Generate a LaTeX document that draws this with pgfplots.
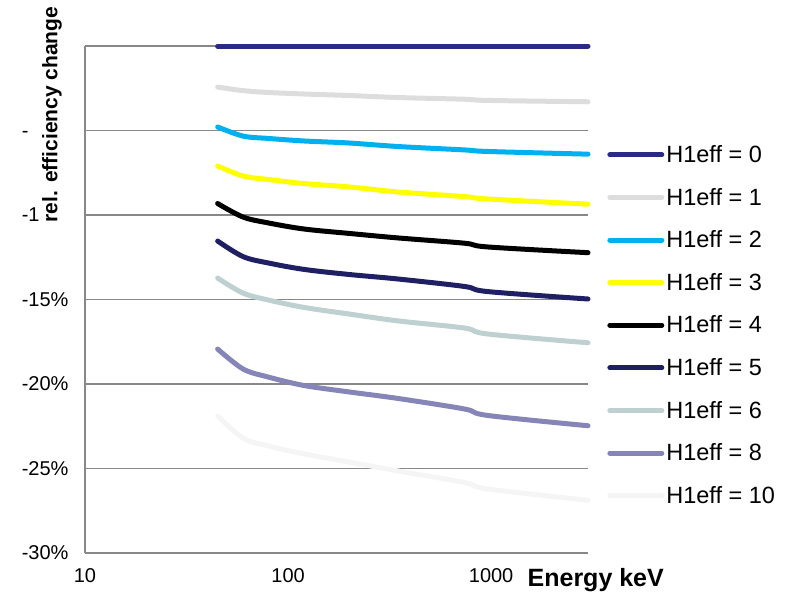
\documentclass[border=0pt]{standalone}
\usepackage{fontspec}
\setmainfont{Liberation Sans}
\usepackage{pgfplots}
\pgfplotsset{compat=1.18}
\usepackage{pgfplotstable}
\definecolor{c0}{RGB}{43,43,135}
\definecolor{c1}{RGB}{221,221,221}
\definecolor{c2}{RGB}{0,176,240}
\definecolor{c3}{RGB}{255,255,0}
\definecolor{c4}{RGB}{0,0,0}
\definecolor{c5}{RGB}{31,31,99}
\definecolor{c6}{RGB}{190,208,208}
\definecolor{c8}{RGB}{133,133,184}
\definecolor{c10}{RGB}{245,245,245}
\definecolor{gridc}{RGB}{136,136,136}
\pgfplotstableread{
E     h0  h1     h2     h3     h4      h5      h6      h8      h10
45    0  -2.43  -4.79  -7.10  -9.32  -11.54  -13.73  -17.93  -21.89
60    0  -2.64  -5.33  -7.69  -10.12 -12.46  -14.62  -19.11  -23.20
80    0  -2.75  -5.47  -7.90  -10.47 -12.84  -15.03  -19.59  -23.67
120   0  -2.84  -5.62  -8.14  -10.83 -13.22  -15.47  -20.09  -24.14
200   0  -2.93  -5.74  -8.34  -11.09 -13.52  -15.86  -20.47  -24.62
350   0  -3.05  -5.95  -8.64  -11.36 -13.79  -16.27  -20.86  -25.15
740   0  -3.15  -6.15  -8.91  -11.67 -14.23  -16.69  -21.48  -25.83
960   0  -3.22  -6.24  -9.05  -11.89 -14.53  -17.04  -21.86  -26.21
3000  0  -3.30  -6.40  -9.36  -12.23 -14.97  -17.56  -22.47  -26.88
}\data
\begin{document}
\begin{tikzpicture}
\useasboundingbox (0,0) rectangle (786pt,595pt);
\begin{axis}[
  at={(85pt,42pt)}, anchor=south west,
  scale only axis, width=503pt, height=507pt,
  xmode=log, xmin=10, xmax=3000,
  ymin=-30, ymax=0,
  axis x line*=bottom, axis y line*=left,
  axis line style={gridc, line width=1.5pt, -},
  major tick length=0pt, minor tick length=0pt,
  xminorticks=false,
  xtick={10,100,1000}, xticklabels={10,100,1000},
  ytick={-30,-25,-20,-15,-10,-5,0},
  yticklabels={-30\%,-25\%,-20\%,-15\%,-1\phantom{0\%},-\phantom{10\%},{}},
  ymajorgrids, major grid style={gridc, line width=1.5pt},
  /pgf/number format/assume math mode=true,
  tick label style={font=\fontsize{20}{24}\selectfont, black},
  xticklabel style={yshift=-12pt},
  yticklabel style={xshift=-13pt},
  xlabel={Energy keV},
  xlabel style={font=\fontsize{25}{30}\selectfont\bfseries, at={(axis description cs:0.873,0)}, anchor=base west, yshift=-33pt},
  ylabel={rel. efficiency change},
  ylabel style={font=\fontsize{21}{25}\selectfont\bfseries, at={(axis description cs:-0.0656,0.865)}, anchor=center},
  legend style={at={(axis description cs:1.038,0.808)}, anchor=north west, draw=none, fill=none,
    font=\fontsize{23.5}{28}\selectfont, row sep=20.1pt, inner sep=0pt},
  legend cell align=left,
  legend image code/.code={\draw[#1, line width=5pt, line cap=round] (0pt,0pt) -- (52pt,0pt);},
  every axis plot/.append style={line width=5pt, line cap=round, line join=round, smooth, tension=0.55},
  clip=false,
]
\addplot[c0] table[x=E,y=h0] {\data};
\addlegendentry{H1eff = 0}
\addplot[c1] table[x=E,y=h1] {\data};
\addlegendentry{H1eff = 1}
\addplot[c2] table[x=E,y=h2] {\data};
\addlegendentry{H1eff = 2}
\addplot[c3] table[x=E,y=h3] {\data};
\addlegendentry{H1eff = 3}
\addplot[c4] table[x=E,y=h4] {\data};
\addlegendentry{H1eff = 4}
\addplot[c5] table[x=E,y=h5] {\data};
\addlegendentry{H1eff = 5}
\addplot[c6] table[x=E,y=h6] {\data};
\addlegendentry{H1eff = 6}
\addplot[c8] table[x=E,y=h8] {\data};
\addlegendentry{H1eff = 8}
\addplot[c10] table[x=E,y=h10] {\data};
\addlegendentry{H1eff = 10}
\end{axis}
\end{tikzpicture}
\end{document}
